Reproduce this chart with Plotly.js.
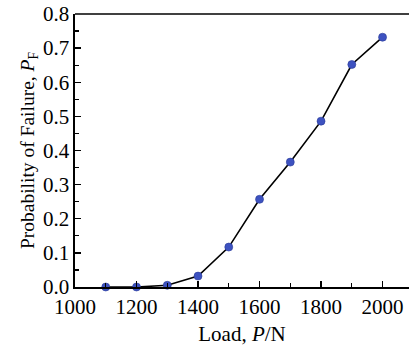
<!DOCTYPE html>
<html><head><meta charset="utf-8">
<script src="https://cdn.plot.ly/plotly-3.0.1.min.js"></script>
<style>html,body{margin:0;padding:0;overflow:hidden;background:#fff}</style>
</head><body><div id="c" style="width:409px;height:347px"></div>
<script>
const loads = [1100, 1200, 1300, 1400, 1500, 1600, 1700, 1800, 1900, 2000];
const pf = [0.0, 0.0, 0.005, 0.032, 0.117, 0.257, 0.366, 0.486, 0.652, 0.732];
const xTicks = [1000, 1200, 1400, 1600, 1800, 2000];
const yTicks = [0.0, 0.1, 0.2, 0.3, 0.4, 0.5, 0.6, 0.7, 0.8];
const font = 'Liberation Serif, Times New Roman, serif';
Plotly.newPlot('c', [{
  x: loads, y: pf, type: 'scatter', mode: 'lines+markers',
  line: {color: '#000', width: 1.6},
  marker: {color: '#3d52c0', size: 8, line: {width: 0.6, color: '#2a3a99'}},
  cliponaxis: false
}], {
  width: 409, height: 347,
  margin: {l: 75, r: 0, t: 14, b: 60},
  paper_bgcolor: '#fff', plot_bgcolor: '#fff',
  showlegend: false,
  font: {family: font, size: 21, color: '#000'},
  xaxis: {
    range: [1000, 2086], tickvals: xTicks, ticktext: xTicks.map(String),
    ticks: 'inside', ticklen: 6, tickwidth: 1.3, tickcolor: '#000',
    minor: {dtick: 100, tick0: 1000, ticks: 'inside', ticklen: 4, tickwidth: 1.3, tickcolor: '#000'},
    showline: true, linecolor: '#000', linewidth: 1.6, mirror: false,
    showgrid: false, zeroline: false,
    tickfont: {family: font, size: 21},
    title: {text: 'Load, <i>P</i>/N', font: {family: font, size: 21}, standoff: 8}
  },
  yaxis: {
    range: [0, 0.8], tickvals: yTicks, ticktext: yTicks.map(v => v.toFixed(1)),
    ticks: 'inside', ticklen: 6, tickwidth: 1.3, tickcolor: '#000',
    minor: {dtick: 0.05, tick0: 0, ticks: 'inside', ticklen: 4, tickwidth: 1.3, tickcolor: '#000'},
    showline: true, linecolor: '#000', linewidth: 1.6,
    showgrid: false, zeroline: false,
    tickfont: {family: font, size: 21},
    title: {text: 'Probability of Failure, <i>P</i><sub>F</sub>', font: {family: font, size: 19.5}, standoff: 3}
  },
  shapes: [{type: 'line', xref: 'paper', yref: 'paper', x0: 0, x1: 1, y0: 1, y1: 1, line: {color: '#000', width: 1.6}}]
}, {displayModeBar: false, staticPlot: true});
</script></body></html>
